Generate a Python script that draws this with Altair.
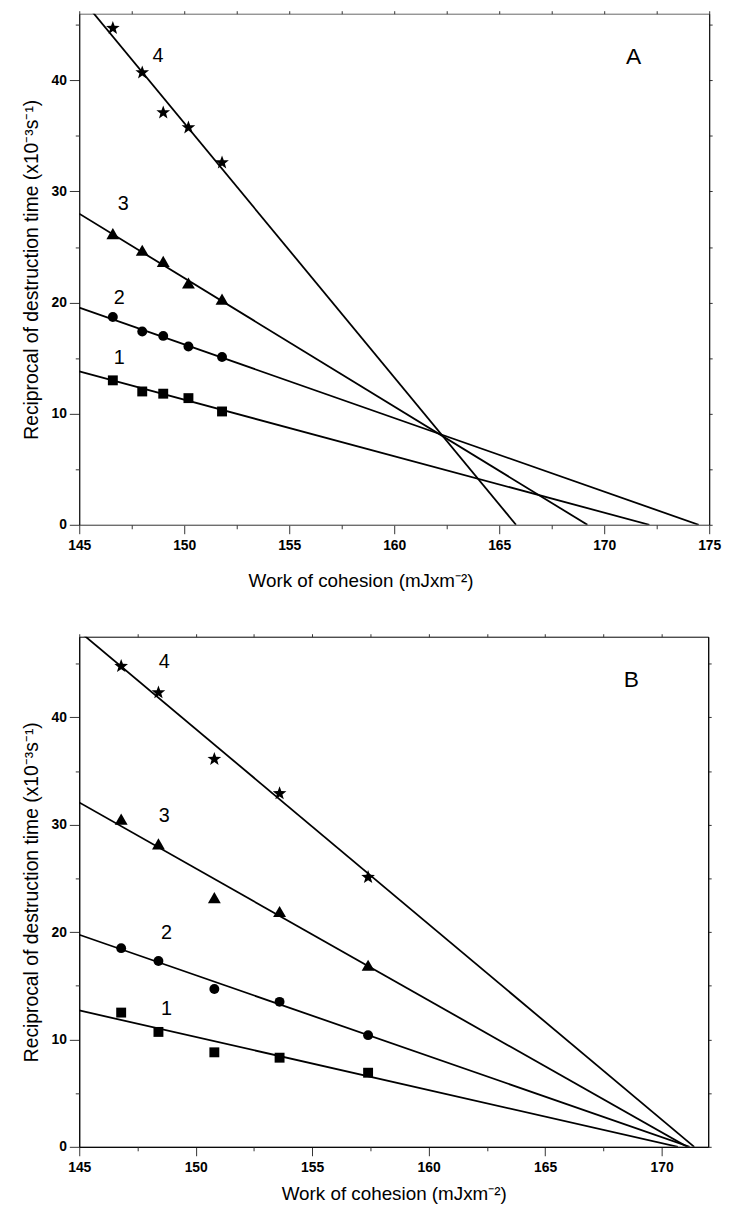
import math
import altair as alt
import pandas as pd

SERIES = ["1", "2", "3", "4"]

# ---------------- Panel A ----------------
A_X = [146.6, 148.0, 149.0, 150.2, 151.8]
A_Y1 = [13.0, 12.0, 11.8, 11.4, 10.2]
A_Y2 = [18.7, 17.4, 17.0, 16.05, 15.1]
A_Y3 = [26.2, 24.7, 23.7, 21.75, 20.3]
A_Y4 = [44.7, 40.7, 37.1, 35.75, 32.6]
A_FIT_Y145 = [13.8, 19.55, 28.0, 47.6]      # fitted line value at x = 145
A_FIT_XZERO = [172.15, 174.5, 169.2, 165.8]  # fitted line crossing of y = 0
A_LABEL_X = [146.9, 146.9, 147.1, 148.75]
A_LABEL_Y = [15.0, 20.4, 28.9, 42.2]
A_LETTER = ["A"]
A_LETTER_X = [171.4]
A_LETTER_Y = [42.1]
A_XDOM = [145, 175]
A_YDOM = [0, 46]
A_XTICKS = [145, 150, 155, 160, 165, 170, 175]
A_XMINOR = [147.5, 152.5, 157.5, 162.5, 167.5, 172.5]
A_XTOP = [145, 147.5, 150, 152.5, 155, 157.5, 160, 162.5, 165, 167.5, 170, 172.5, 175]

# ---------------- Panel B ----------------
B_X = [146.8, 148.4, 150.8, 153.6, 157.4]
B_Y1 = [12.5, 10.7, 8.8, 8.3, 6.9]
B_Y2 = [18.5, 17.3, 14.7, 13.5, 10.4]
B_Y3 = [30.5, 28.2, 23.2, 21.9, 16.9]
B_Y4 = [44.75, 42.3, 36.1, 32.9, 25.1]
B_FIT_Y145 = [12.7, 19.75, 32.07, 48.0]
B_FIT_XZERO = [170.7, 171.2, 171.1, 171.4]
B_LABEL_X = [148.75, 148.75, 148.65, 148.65]
B_LABEL_Y = [12.8, 19.9, 30.8, 45.1]
B_LETTER = ["B"]
B_LETTER_X = [168.7]
B_LETTER_Y = [43.5]
B_XDOM = [145, 172]
B_YDOM = [0, 47.5]
B_XTICKS = [145, 150, 155, 160, 165, 170]
B_XMINOR = [147.5, 152.5, 157.5, 162.5, 167.5]
B_XTOP = [145, 147.5, 150, 152.5, 155, 157.5, 160, 162.5, 165, 167.5, 170]

Y_TICKS = [0, 10, 20, 30, 40]
Y_MINOR = [5, 15, 25, 35, 45]
Y_RIGHT = [0, 5, 10, 15, 20, 25, 30, 35, 40, 45]

X_TITLE = "Work of cohesion (mJxm\u207B\u00B2)"
Y_TITLE = "Reciprocal of destruction time (x10\u207B\u00B3s\u207B\u00B9)"

# symbol paths (drawn scaled by sqrt(size)/2)
_pts = []
for k in range(10):
    ang = math.radians(-90 + 36 * k)
    r = 1.45 if k % 2 == 0 else 0.6
    _pts.append(f"{r * math.cos(ang):.4f},{r * math.sin(ang):.4f}")
STAR = "M" + "L".join(_pts) + "Z"
TRIANGLE = "M0,-1.15L1.3,1.1L-1.3,1.1Z"

SHAPES = ["square", "circle", TRIANGLE, STAR]

FONT = "Liberation Sans"


def panel(xs, ys, fit_y145, fit_xzero, lab_x, lab_y, letter, letter_x, letter_y,
          xdom, ydom, xticks, xminor, xtop, width, height, frame, xtitle_pad, xtitle_x=None):
    pts = pd.DataFrame(
        [{"x": xv, "y": yv, "s": s} for s, yl in zip(SERIES, ys) for xv, yv in zip(xs, yl)]
    )
    fits = pd.DataFrame(
        [{"x": xdom[0], "y": y0, "s": s} for s, y0 in zip(SERIES, fit_y145)]
        + [{"x": xz, "y": 0, "s": s} for s, xz in zip(SERIES, fit_xzero)]
    )
    labs = pd.DataFrame({"x": lab_x, "y": lab_y, "t": SERIES})
    let = pd.DataFrame({"x": letter_x, "y": letter_y, "t": letter})

    xs_ = alt.Scale(domain=xdom, nice=False, zero=False)
    ys_ = alt.Scale(domain=ydom, nice=False, zero=False)

    xkw = dict(orient="bottom", values=xticks, tickSize=9, labelPadding=5, title=X_TITLE,
               titlePadding=xtitle_pad, titleFontSize=19, domainColor=frame,
               tickColor="#333", labelFlush=False, labelOverlap=False)
    if xtitle_x is not None:
        xkw["titleX"] = xtitle_x
    x_major = alt.Axis(**xkw)
    y_major = alt.Axis(orient="left", values=Y_TICKS, tickSize=10, labelPadding=3, title=Y_TITLE,
                       titlePadding=10, titleFontSize=19.5, domainColor="black",
                       tickColor="#333", labelFlush=False, labelOverlap=False)
    x_minor = alt.Axis(orient="bottom", values=xminor, tickSize=4, labels=False, domain=False,
                       title=None, tickColor="#333")
    y_minor = alt.Axis(orient="left", values=Y_MINOR, tickSize=4, labels=False, domain=False,
                       title=None, tickColor="#333")
    x_top = alt.Axis(orient="top", values=xtop, tickSize=3, labels=False, domain=False,
                     title=None, tickColor="#333")
    y_right = alt.Axis(orient="right", values=Y_RIGHT, tickSize=3, labels=False,
                       domain=True, domainColor="black", title=None, tickColor="#333")

    points = alt.Chart(pts).mark_point(filled=True, opacity=1, color="black", strokeWidth=0,
                                       size=100).encode(
        x=alt.X("x:Q", scale=xs_, axis=x_major),
        y=alt.Y("y:Q", scale=ys_, axis=y_major),
        shape=alt.Shape("s:N", scale=alt.Scale(domain=SERIES, range=SHAPES), legend=None),
    )
    lines = alt.Chart(fits).mark_line(color="black", strokeWidth=1.8, clip=True).encode(
        x=alt.X("x:Q", scale=xs_, axis=x_minor),
        y=alt.Y("y:Q", scale=ys_, axis=y_minor),
        detail="s:N",
    )
    texts = alt.Chart(labs).mark_text(font=FONT, fontSize=20, color="black",
                                      align="center", baseline="middle").encode(
        x=alt.X("x:Q", scale=xs_, axis=x_top),
        y=alt.Y("y:Q", scale=ys_, axis=y_right),
        text="t:N",
    )
    letter_m = alt.Chart(let).mark_text(font=FONT, fontSize=23, color="black",
                                        align="center", baseline="middle").encode(
        x=alt.X("x:Q", scale=xs_, axis=None),
        y=alt.Y("y:Q", scale=ys_, axis=None),
        text="t:N",
    )
    return alt.layer(points, lines, texts, letter_m).resolve_axis(
        x="independent", y="independent"
    ).properties(width=width, height=height,
                 view=alt.ViewBackground(stroke=frame, strokeWidth=1))


top = panel(A_X, [A_Y1, A_Y2, A_Y3, A_Y4], A_FIT_Y145, A_FIT_XZERO, A_LABEL_X, A_LABEL_Y,
            A_LETTER, A_LETTER_X, A_LETTER_Y, A_XDOM, A_YDOM, A_XTICKS, A_XMINOR, A_XTOP,
            636, 516, "#666", 19, xtitle_x=284)
bottom = panel(B_X, [B_Y1, B_Y2, B_Y3, B_Y4], B_FIT_Y145, B_FIT_XZERO, B_LABEL_X, B_LABEL_Y,
               B_LETTER, B_LETTER_X, B_LETTER_Y, B_XDOM, B_YDOM, B_XTICKS, B_XMINOR, B_XTOP,
               635, 515, "black", 10)

chart = alt.vconcat(top, bottom, spacing=42).properties(
    padding={"left": 20, "top": 4, "right": 8, "bottom": 5},
    background="white",
).configure_axis(
    labelFont=FONT, labelFontWeight="bold", labelFontSize=14, labelColor="black",
    titleFont=FONT, titleFontWeight="normal", titleColor="black",
    grid=False, domainWidth=1, tickWidth=1,
)

chart.save("out.html", embed_options={"renderer": "svg", "actions": False})
